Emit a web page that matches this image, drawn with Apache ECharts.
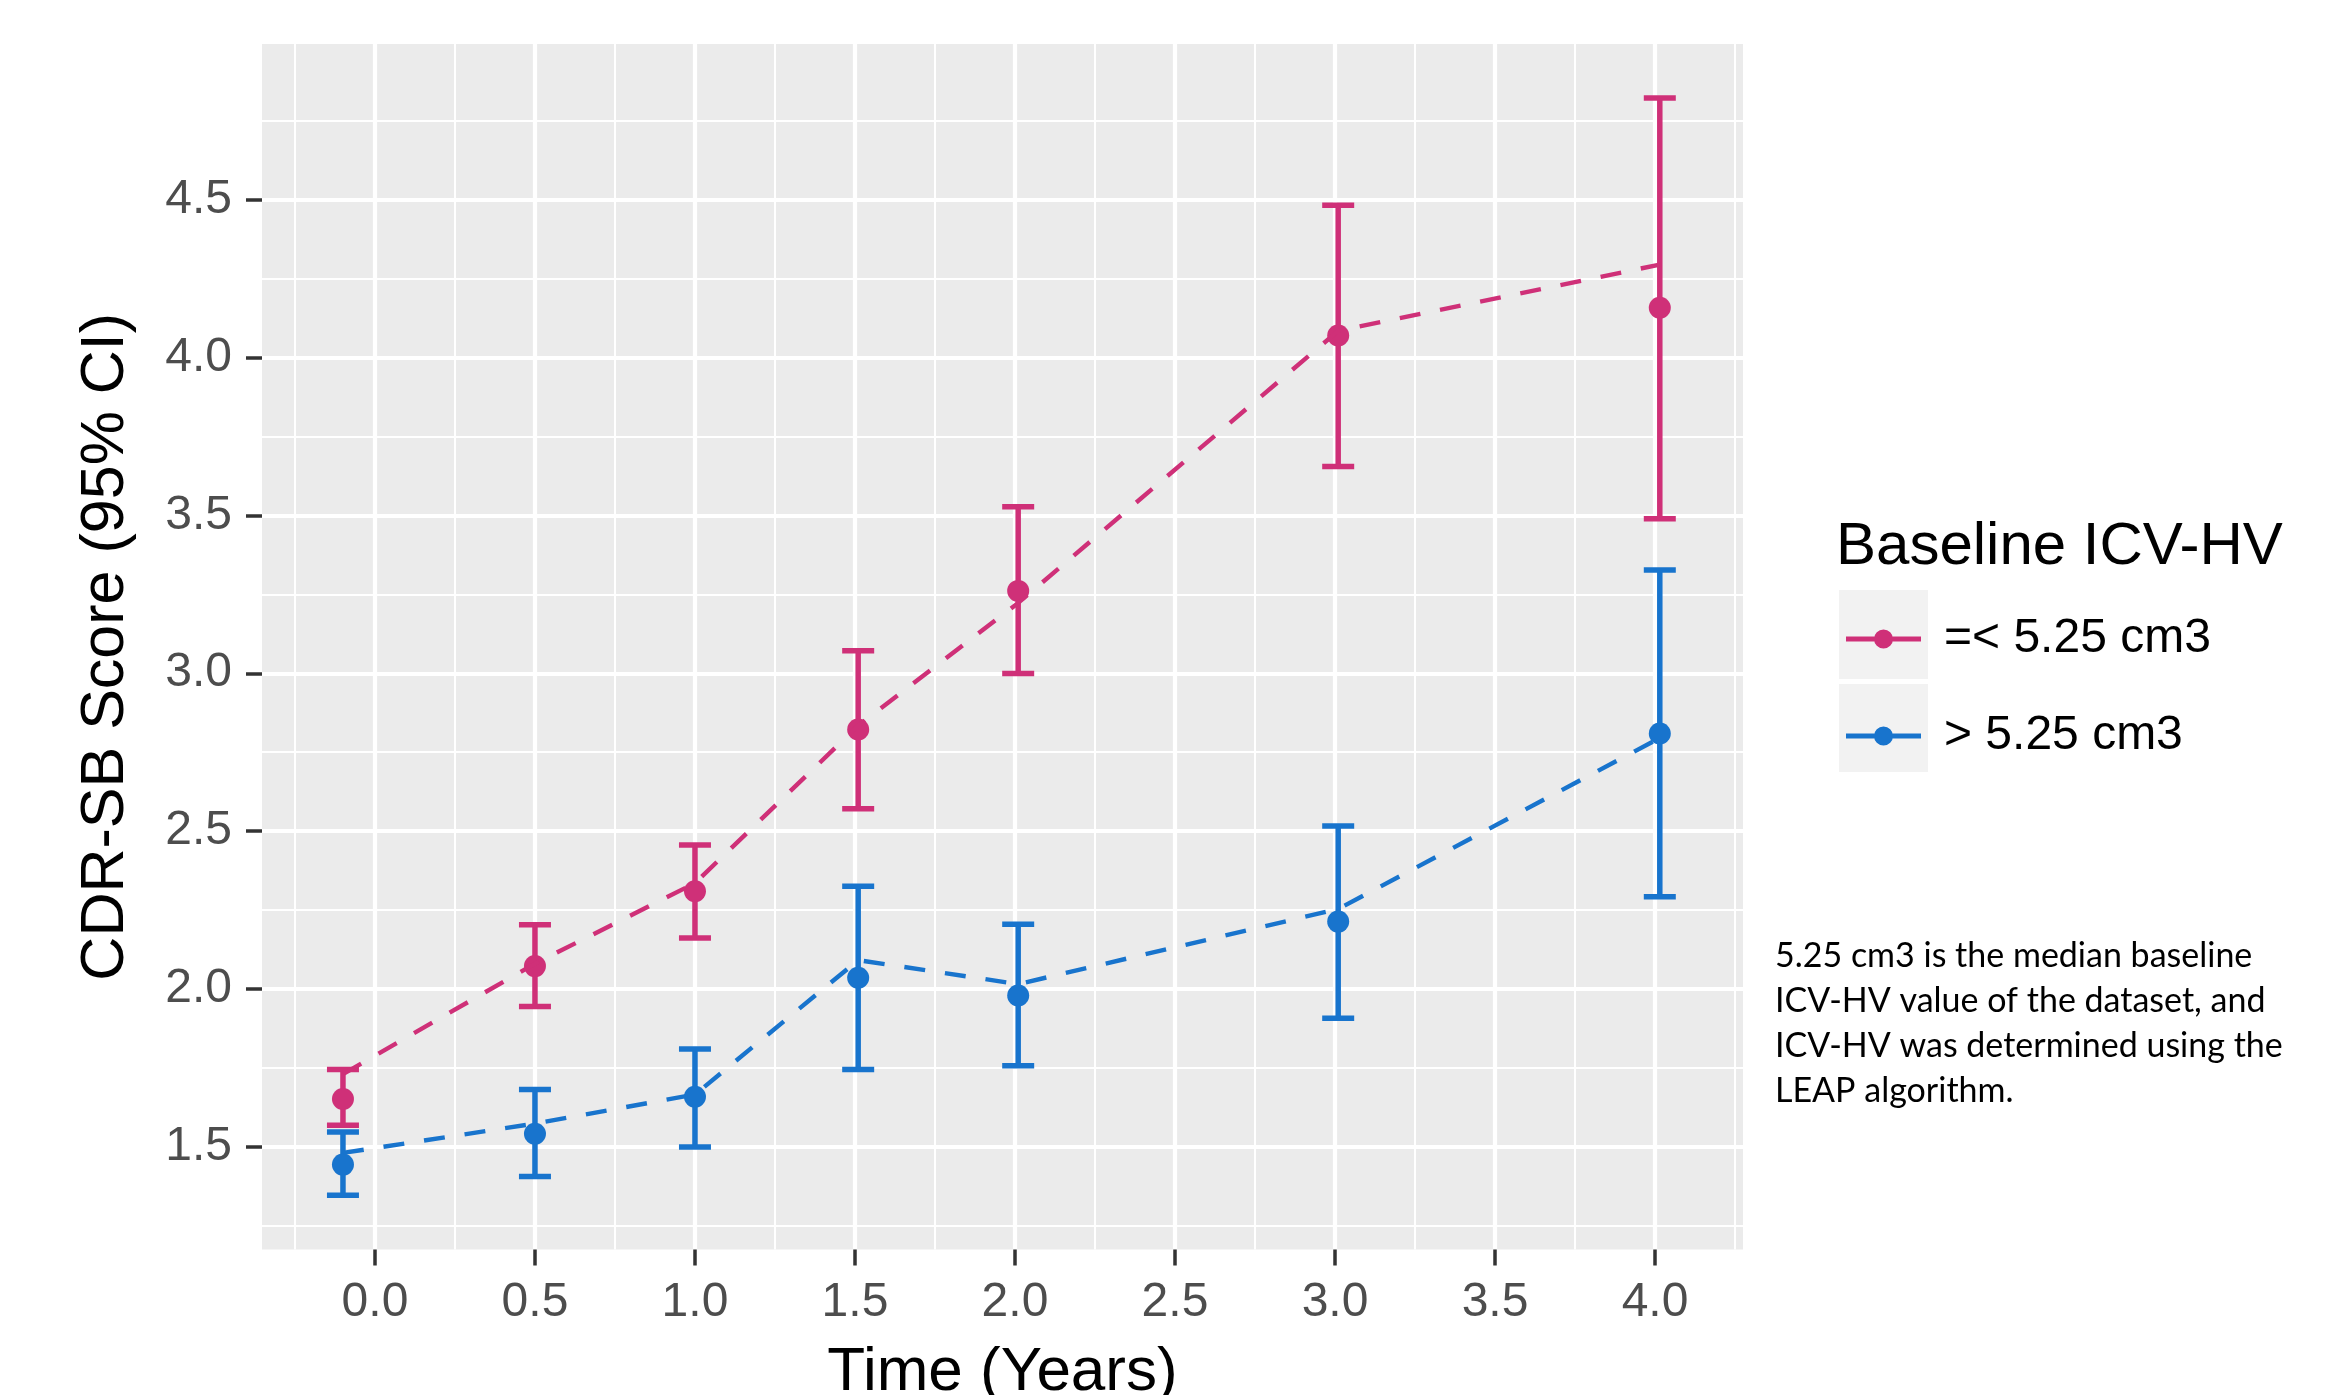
<!DOCTYPE html>
<html><head><meta charset="utf-8">
<script src="https://cdn.jsdelivr.net/npm/echarts@6/dist/echarts.min.js"></script>
<style>html,body{margin:0;padding:0;background:#fff}#c{width:2349px;height:1395px}</style>
</head><body><div id="c"></div>
<script>
// ---- data ----
const timePoints = [-0.1, 0.5, 1.0, 1.51, 2.01, 3.01, 4.015];
const lowMean  = [1.651, 2.072, 2.309, 2.822, 3.261, 4.070, 4.158];
const lowUpper = [1.744, 2.203, 2.456, 3.071, 3.528, 4.483, 4.823];
const lowLower = [1.568, 1.944, 2.161, 2.571, 2.999, 3.655, 3.490];
const lowFit   = [1.730, 2.080, 2.335, 2.834, 3.223, 4.085, 4.295];
const highMean  = [1.443, 1.541, 1.658, 2.035, 1.979, 2.213, 2.809];
const highUpper = [1.546, 1.681, 1.809, 2.325, 2.205, 2.516, 3.327];
const highLower = [1.346, 1.405, 1.499, 1.744, 1.756, 1.907, 2.292];
const highFit   = [1.480, 1.573, 1.665, 2.091, 2.015, 2.253, 2.795];
const groupNames = ['=< 5.25 cm3', '> 5.25 cm3'];
const xMajorTicks = [0, 0.5, 1.0, 1.5, 2.0, 2.5, 3.0, 3.5, 4.0];
const xMinorTicks = [-0.25, 0.25, 0.75, 1.25, 1.75, 2.25, 2.75, 3.25, 3.75, 4.25];
const yMajorTicks = [1.5, 2.0, 2.5, 3.0, 3.5, 4.0, 4.5];
const yMinorTicks = [1.25, 1.75, 2.25, 2.75, 3.25, 3.75, 4.25, 4.75];
const xRange = [-0.353, 4.275];
const yRange = [1.174, 4.994];
const xTitle = 'Time (Years)';
const yTitle = 'CDR-SB Score (95% CI)';
const legendTitle = 'Baseline ICV-HV';
const caption = '5.25 cm3 is the median baseline\nICV-HV value of the dataset, and\nICV-HV was determined using the\nLEAP algorithm.';

// ---- styles ----
const PINK = '#CF3078';
const BLUE = '#1874CD';
const FONT = 'Liberation Sans, Arial, sans-serif';
const capHalf = 0.05;

function pairs(xs, ys) { return xs.map((x, i) => [x, ys[i]]); }
function bars(xs, lo, hi) { return xs.map((x, i) => [x, lo[i], hi[i]]); }

function renderErrorBar(params, api) {
  const x = api.value(0), lo = api.value(1), hi = api.value(2);
  const pLo = api.coord([x, lo]), pHi = api.coord([x, hi]);
  const pL = api.coord([x - capHalf, lo]), pR = api.coord([x + capHalf, lo]);
  const half = (pR[0] - pL[0]) / 2;
  const style = { stroke: api.visual('color'), lineWidth: 5.5, fill: null };
  return { type: 'group', children: [
    { type: 'line', shape: { x1: pLo[0], y1: pLo[1], x2: pHi[0], y2: pHi[1] }, style },
    { type: 'line', shape: { x1: pLo[0] - half, y1: pLo[1], x2: pLo[0] + half, y2: pLo[1] }, style },
    { type: 'line', shape: { x1: pHi[0] - half, y1: pHi[1], x2: pHi[0] + half, y2: pHi[1] }, style }
  ]};
}

function groupSeries(name, color, mean, lo, hi, fit) {
  return [
    { name, type: 'custom', renderItem: renderErrorBar, itemStyle: { color },
      encode: { x: 0, y: [1, 2] }, data: bars(timePoints, lo, hi), z: 3, clip: false },
    { name, type: 'scatter', symbol: 'circle', symbolSize: 22, itemStyle: { color, opacity: 1 },
      data: pairs(timePoints, mean), z: 4 },
    { name, type: 'line', showSymbol: false, symbol: 'none', itemStyle: { color },
      lineStyle: { color, width: 4.4, type: [21, 20] }, data: pairs(timePoints, fit), z: 5 }
  ];
}

const legendIcon = 'path://M0,7.4 L75,7.4 L75,12.6 L0,12.6 Z M28,10 A9.5,9.5 0 1 1 47,10 A9.5,9.5 0 1 1 28,10 Z';

const fmt = v => Number(v).toFixed(1);

const option = {
  animation: false,
  backgroundColor: '#ffffff',
  grid: { left: 262, right: 606, top: 44, bottom: 145.5, show: true, backgroundColor: '#EBEBEB', borderWidth: 0,
          containLabel: false, outerBoundsMode: 'none' },
  title: [
    { text: legendTitle, left: 1836, top: 517, padding: 0,
      textStyle: { fontFamily: FONT, fontSize: 60, fontWeight: 'normal', color: '#000' } },
    { text: caption, left: 1775, top: 934, padding: 0,
      textStyle: { fontFamily: 'Lato, sans-serif', fontSize: 34, fontWeight: 'normal', color: '#000', lineHeight: 45 } }
  ],
  legend: {
    data: groupNames.map(n => ({ name: n, icon: legendIcon })),
    orient: 'vertical', left: 1846, top: 609, itemWidth: 75, itemHeight: 20, itemGap: 37,
    selectedMode: false, z: 10, padding: 0,
    textStyle: { fontFamily: FONT, fontSize: 48, color: '#000', lineHeight: 56, padding: [4, 0, 0, 18] }
  },
  graphic: [
    { type: 'rect', shape: { x: 1839, y: 590, width: 89, height: 89 }, style: { fill: '#F2F2F2' }, z: 0 },
    { type: 'rect', shape: { x: 1839, y: 684, width: 89, height: 88 }, style: { fill: '#F2F2F2' }, z: 0 }
  ],
  xAxis: [
    { type: 'value', min: xRange[0], max: xRange[1], position: 'bottom',
      name: xTitle, nameLocation: 'middle', nameGap: 92,
      nameTextStyle: { fontFamily: FONT, fontSize: 62, color: '#000' },
      axisLine: { show: false, onZero: false },
      axisTick: { show: true, customValues: xMajorTicks, length: 16, lineStyle: { color: '#333', width: 3.5 } },
      axisLabel: { customValues: xMajorTicks, formatter: fmt, fontFamily: FONT, fontSize: 48, color: '#4D4D4D', margin: 29 },
      splitLine: { show: true, lineStyle: { color: '#FFFFFF', width: 4.2 } }, z: 2 },
    { type: 'value', min: xRange[0], max: xRange[1], position: 'top',
      axisLine: { show: false, onZero: false }, axisTick: { show: false, customValues: xMinorTicks },
      axisLabel: { show: false, customValues: xMinorTicks },
      splitLine: { show: true, lineStyle: { color: '#FFFFFF', width: 2 } }, z: 1 }
  ],
  yAxis: [
    { type: 'value', min: yRange[0], max: yRange[1], position: 'left',
      name: yTitle, nameLocation: 'middle', nameGap: 125, nameRotate: 90,
      nameTextStyle: { fontFamily: FONT, fontSize: 61, color: '#000' },
      axisLine: { show: false, onZero: false },
      axisTick: { show: true, customValues: yMajorTicks, length: 16, lineStyle: { color: '#333', width: 3.5 } },
      axisLabel: { customValues: yMajorTicks, formatter: fmt, fontFamily: FONT, fontSize: 48, color: '#4D4D4D', margin: 30 },
      splitLine: { show: true, lineStyle: { color: '#FFFFFF', width: 4.2 } }, z: 2 },
    { type: 'value', min: yRange[0], max: yRange[1], position: 'right',
      axisLine: { show: false, onZero: false }, axisTick: { show: false, customValues: yMinorTicks },
      axisLabel: { show: false, customValues: yMinorTicks },
      splitLine: { show: true, lineStyle: { color: '#FFFFFF', width: 2 } }, z: 1 }
  ],
  series: [
    ...groupSeries(groupNames[0], PINK, lowMean, lowLower, lowUpper, lowFit),
    ...groupSeries(groupNames[1], BLUE, highMean, highLower, highUpper, highFit)
  ]
};
const chart = echarts.init(document.getElementById('c'));
chart.setOption(option);
</script>
</body></html>
